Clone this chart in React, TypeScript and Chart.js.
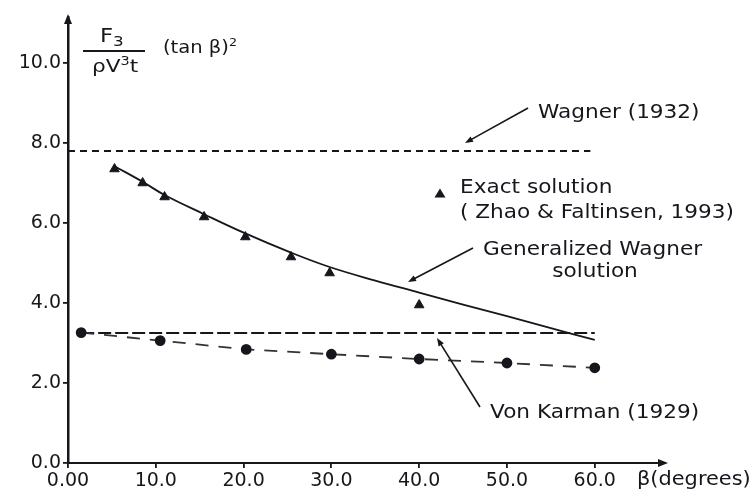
import React, { useEffect, useRef } from "react";
import { Chart, registerables } from "chart.js";

Chart.register(...registerables);

// Axis ticks
const betaTicks = [0, 10, 20, 30, 40, 50, 60];
const forceTicks = [0, 2, 4, 6, 8, 10];

// Exact solution (Zhao & Faltinsen, 1993) – triangles
const exactBeta = [5.3, 8.5, 11.0, 15.5, 20.2, 25.4, 29.8, 40.0];
const exactForce = [7.35, 7.0, 6.65, 6.15, 5.65, 5.15, 4.75, 3.95];

// Generalized Wagner solution – solid curve
const genWagnerBeta = [5.3, 8.5, 11.0, 15.5, 20.2, 25.4, 29.8, 35, 40, 45, 50, 55, 60];
const genWagnerForce = [7.42, 7.03, 6.7, 6.22, 5.74, 5.26, 4.9, 4.56, 4.26, 3.96, 3.67, 3.37, 3.08];

// Dashed curve with filled circles
const circleBeta = [1.5, 10.5, 20.3, 30, 40, 50, 60];
const circleForce = [3.26, 3.06, 2.84, 2.72, 2.6, 2.5, 2.38];

// Wagner (1932) and Von Karman (1929) constant levels
const wagnerBeta = [0, 59.5];
const wagnerForce = [7.8, 7.8];
const karmanBeta = [1.5, 60];
const karmanForce = [3.25, 3.25];

const INK = "#16161c";
const FONT = '"DejaVu Sans", "Liberation Sans", sans-serif';

const pts = (xs: number[], ys: number[]) => xs.map((x, i) => ({ x, y: ys[i] }));

type Run = { text: string; size: number; dy?: number };

function drawRuns(ctx: CanvasRenderingContext2D, x: number, y: number, runs: Run[], sx = 1.08, align: "left" | "center" = "left") {
  ctx.save();
  ctx.fillStyle = INK;
  ctx.textBaseline = "alphabetic";
  ctx.textAlign = "left";
  let total = 0;
  for (const r of runs) {
    ctx.font = `${r.size}px ${FONT}`;
    total += ctx.measureText(r.text).width * sx;
  }
  let cx = align === "center" ? x - total / 2 : x;
  for (const r of runs) {
    ctx.font = `${r.size}px ${FONT}`;
    const w = ctx.measureText(r.text).width;
    ctx.save();
    ctx.translate(cx, y + (r.dy || 0));
    ctx.scale(sx, 1);
    ctx.fillText(r.text, 0, 0);
    ctx.restore();
    cx += w * sx;
  }
  ctx.restore();
}

function arrow(ctx: CanvasRenderingContext2D, x1: number, y1: number, x2: number, y2: number, head = 8) {
  const a = Math.atan2(y2 - y1, x2 - x1);
  ctx.save();
  ctx.strokeStyle = INK;
  ctx.fillStyle = INK;
  ctx.lineWidth = 1.6;
  ctx.beginPath();
  ctx.moveTo(x1, y1);
  ctx.lineTo(x2 - Math.cos(a) * head * 0.6, y2 - Math.sin(a) * head * 0.6);
  ctx.stroke();
  ctx.beginPath();
  ctx.moveTo(x2, y2);
  ctx.lineTo(x2 - head * Math.cos(a) + (head / 2.6) * Math.sin(a), y2 - head * Math.sin(a) - (head / 2.6) * Math.cos(a));
  ctx.lineTo(x2 - head * Math.cos(a) - (head / 2.6) * Math.sin(a), y2 - head * Math.sin(a) + (head / 2.6) * Math.cos(a));
  ctx.closePath();
  ctx.fill();
  ctx.restore();
}

const annotations = {
  id: "slammingAnnotations",
  afterDraw(chart: any) {
    const ctx: CanvasRenderingContext2D = chart.ctx;
    const xs = chart.scales.x;
    const ys = chart.scales.y;
    const X = (v: number) => xs.getPixelForValue(v);
    const Y = (v: number) => ys.getPixelForValue(v);
    const area = chart.chartArea;

    // axis arrowheads
    ctx.save();
    ctx.fillStyle = INK;
    ctx.beginPath();
    ctx.moveTo(area.left, area.top - 3);
    ctx.lineTo(area.left - 4, area.top + 7);
    ctx.lineTo(area.left + 4, area.top + 7);
    ctx.closePath();
    ctx.fill();
    ctx.beginPath();
    ctx.moveTo(area.right + 3, area.bottom);
    ctx.lineTo(area.right - 7, area.bottom - 4);
    ctx.lineTo(area.right - 7, area.bottom + 4);
    ctx.closePath();
    ctx.fill();
    ctx.restore();

    // ordinate title: F3 / (rho V^3 t) (tan beta)^2
    drawRuns(ctx, X(3.645), Y(10.525), [
      { text: "F", size: 19 },
      { text: "3", size: 14, dy: 4 },
    ], 1.2);
    ctx.save();
    ctx.strokeStyle = INK;
    ctx.lineWidth = 1.8;
    ctx.beginPath();
    ctx.moveTo(X(1.71), Y(10.3));
    ctx.lineTo(X(8.77), Y(10.3));
    ctx.stroke();
    ctx.restore();
    drawRuns(ctx, X(2.734), Y(9.775), [
      { text: "ρV", size: 18 },
      { text: "3", size: 12, dy: -7 },
      { text: "t", size: 18 },
    ], 1.2);
    drawRuns(ctx, X(10.82), Y(10.25), [
      { text: "(tan β)", size: 17 },
      { text: "2", size: 11, dy: -7 },
    ], 1.15);

    // Wagner (1932)
    drawRuns(ctx, X(53.54), Y(8.625), [{ text: "Wagner (1932)", size: 20 }]);
    arrow(ctx, X(52.4), Y(8.875), X(45.22), Y(8.0));

    // Exact solution legend entry
    ctx.save();
    ctx.fillStyle = INK;
    const tx = X(42.37), ty = Y(6.74);
    ctx.beginPath();
    ctx.moveTo(tx, ty - 5);
    ctx.lineTo(tx - 5.5, ty + 4);
    ctx.lineTo(tx + 5.5, ty + 4);
    ctx.closePath();
    ctx.fill();
    ctx.restore();
    drawRuns(ctx, X(44.65), Y(6.75), [{ text: "Exact solution", size: 20 }]);
    drawRuns(ctx, X(44.65), Y(6.125), [{ text: "( Zhao & Faltinsen, 1993)", size: 20 }]);

    // Generalized Wagner solution
    drawRuns(ctx, X(47.27), Y(5.2), [{ text: "Generalized Wagner", size: 20 }]);
    drawRuns(ctx, X(60.03), Y(4.65), [{ text: "solution", size: 20 }], 1.08, "center");
    arrow(ctx, X(46.13), Y(5.375), X(38.73), Y(4.525));

    // Von Karman (1929)
    drawRuns(ctx, X(48.07), Y(1.125), [{ text: "Von Karman (1929)", size: 20 }]);
    arrow(ctx, X(46.93), Y(1.4), X(42.03), Y(3.125));

    // abscissa title
    drawRuns(ctx, X(64.81), Y(-0.55), [{ text: "β(degrees)", size: 19 }], 1.1);
  },
};

export default function App() {
  const ref = useRef<HTMLCanvasElement | null>(null);

  useEffect(() => {
    if (!ref.current) return;
    const chart = new Chart(ref.current, {
      type: "line",
      data: {
        datasets: [
          {
            label: "Exact solution",
            data: pts(exactBeta, exactForce),
            showLine: false,
            pointStyle: "triangle",
            pointRadius: 5.5,
            backgroundColor: INK,
            borderColor: INK,
            borderWidth: 1,
          },
          {
            label: "Generalized Wagner solution",
            data: pts(genWagnerBeta, genWagnerForce),
            borderColor: INK,
            borderWidth: 1.8,
            pointRadius: 0,
            tension: 0.4,
            fill: false,
          },
          {
            label: "Circles",
            data: pts(circleBeta, circleForce),
            borderColor: "#333",
            borderWidth: 1.8,
            borderDash: [13, 10],
            pointStyle: "circle",
            pointRadius: 4.5,
            pointBackgroundColor: INK,
            pointBorderColor: INK,
            fill: false,
          },
          {
            label: "Wagner (1932)",
            data: pts(wagnerBeta, wagnerForce),
            borderColor: INK,
            borderWidth: 2,
            borderDash: [7, 5],
            pointRadius: 0,
            fill: false,
          },
          {
            label: "Von Karman (1929)",
            data: pts(karmanBeta, karmanForce),
            borderColor: INK,
            borderWidth: 2,
            borderDash: [13, 4],
            pointRadius: 0,
            fill: false,
          },
        ],
      },
      options: {
        animation: false,
        responsive: false,
        maintainAspectRatio: false,
        events: [],
        layout: { padding: { top: 17, right: 91, bottom: 0, left: 0 } },
        plugins: {
          legend: { display: false },
          tooltip: { enabled: false },
          title: { display: false },
        },
        scales: {
          x: {
            type: "linear",
            min: 0,
            max: 68,
            afterBuildTicks: (axis: any) => {
              axis.ticks = betaTicks.map((v) => ({ value: v }));
            },
            afterFit: (axis: any) => {
              axis.height = 28;
            },
            ticks: {
              autoSkip: false,
              maxRotation: 0,
              padding: 2,
              color: INK,
              font: { family: FONT, size: 19 },
              callback: (v: any) => (Number(v) === 0 ? "0.00" : Number(v).toFixed(1)),
            },
            grid: { drawOnChartArea: false, drawTicks: true, tickLength: 5, color: INK, lineWidth: 1.8 },
            border: { display: true, color: INK, width: 2 },
          },
          y: {
            type: "linear",
            min: 0,
            max: 11.15,
            afterBuildTicks: (axis: any) => {
              axis.ticks = forceTicks.map((v) => ({ value: v }));
            },
            afterFit: (axis: any) => {
              axis.width = 68;
            },
            ticks: {
              autoSkip: false,
              padding: 2,
              color: INK,
              font: { family: FONT, size: 19 },
              callback: (v: any) => Number(v).toFixed(1),
            },
            grid: { drawOnChartArea: false, drawTicks: true, tickLength: 5, color: INK, lineWidth: 1.8 },
            border: { display: true, color: INK, width: 2.5 },
          },
        },
      } as any,
      plugins: [annotations],
    });
    return () => chart.destroy();
  }, []);

  return (
    <div style={{ position: "fixed", left: 0, top: 0, width: 756, height: 491, background: "#fff" }}>
      <canvas ref={ref} width={756} height={491} style={{ width: 756, height: 491, display: "block" }} />
    </div>
  );
}
